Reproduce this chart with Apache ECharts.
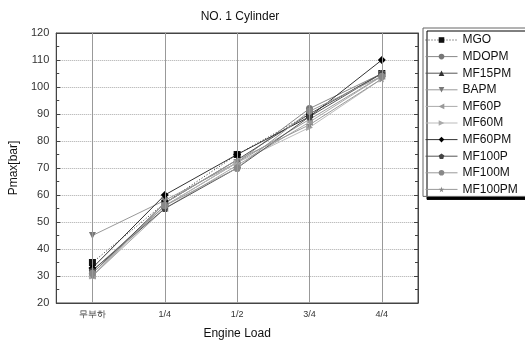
<!DOCTYPE html>
<html>
<head>
<meta charset="utf-8">
<script src="https://cdn.jsdelivr.net/npm/echarts@6/dist/echarts.min.js"></script>
<style>
  html, body { margin: 0; padding: 0; background: #fff; }
  #chart { width: 525px; height: 345px; }
</style>
</head>
<body>
<div id="chart"></div>
<script>
// Engine load steps
const loads = ['무부하', '1/4', '1/2', '3/4', '4/4'];

// Peak cylinder pressure (bar) per fuel
const MGO     = [35, 57, 75, 90, 105];
const MDOPM   = [32, 56, 72, 92, 105];
const MF15PM  = [31, 57, 73, 90, 105];
const BAPM    = [45, 58, 72, 88, 104];
const MF60P   = [30, 55, 71, 87, 104];
const MF60M   = [30, 56, 72, 85, 103];
const MF60PM  = [33, 60, 75, 89, 110];
const MF100P  = [32, 55, 70, 89, 105];
const MF100M  = [31, 56, 70, 91, 104];
const MF100PM = [30, 57, 73, 86, 103];

const yTicks = [20, 30, 40, 50, 60, 70, 80, 90, 100, 110, 120];

const pentagon = 'path://M0,-1 L0.951,-0.309 L0.588,0.809 L-0.588,0.809 L-0.951,-0.309 Z';
const star = 'path://M0,-1 L0.225,-0.309 L0.951,-0.309 L0.363,0.118 L0.588,0.809 L0,0.382 L-0.588,0.809 L-0.363,0.118 L-0.951,-0.309 L-0.225,-0.309 Z';

const defs = [
  { name: 'MGO',     data: MGO,     color: '#111', line: '#333', symbol: 'rect',     rot: 0,   size: 7, dash: [1, 2] },
  { name: 'MDOPM',   data: MDOPM,   color: '#777', line: '#888', symbol: 'circle',   rot: 0,   size: 7 },
  { name: 'MF15PM',  data: MF15PM,  color: '#333', line: '#555', symbol: 'triangle', rot: 0,   size: 7 },
  { name: 'BAPM',    data: BAPM,    color: '#777', line: '#999', symbol: 'triangle', rot: 180, size: 7 },
  { name: 'MF60P',   data: MF60P,   color: '#999', line: '#aaa', symbol: 'triangle', rot: 90,  size: 7 },
  { name: 'MF60M',   data: MF60M,   color: '#aaa', line: '#bbb', symbol: 'triangle', rot: -90, size: 7 },
  { name: 'MF60PM',  data: MF60PM,  color: '#000', line: '#333', symbol: 'diamond',  rot: 0,   size: 8 },
  { name: 'MF100P',  data: MF100P,  color: '#444', line: '#555', symbol: pentagon,   rot: 0,   size: 7 },
  { name: 'MF100M',  data: MF100M,  color: '#888', line: '#999', symbol: 'circle',   rot: 0,   size: 7 },
  { name: 'MF100PM', data: MF100PM, color: '#888', line: '#999', symbol: star,       rot: 0,   size: 7 }
];

const font = 'Liberation Sans, Arial, sans-serif';

const series = defs.map(d => ({
  name: d.name,
  type: 'line',
  data: d.data,
  symbol: d.symbol,
  symbolSize: d.size,
  symbolRotate: d.rot,
  showSymbol: true,
  itemStyle: { color: d.color },
  lineStyle: { color: d.line, width: 1, type: d.dash || 'solid' },
  emphasis: { disabled: true },
  z: 3
}));

// Vertical guide lines at each load step
series.push({
  type: 'line',
  data: [],
  silent: true,
  markLine: {
    symbol: 'none',
    silent: true,
    label: { show: false },
    lineStyle: { color: '#999', width: 1, type: 'solid' },
    data: loads.map(l => ({ xAxis: l }))
  },
  z: 1
});

const chart = echarts.init(document.getElementById('chart'), null, { renderer: 'canvas' });
chart.setOption({
  animation: false,
  backgroundColor: '#fff',
  title: {
    text: 'NO. 1 Cylinder',
    left: 235, top: 6, textAlign: 'center',
    textStyle: { fontFamily: font, fontSize: 12, fontWeight: 'normal', color: '#111' }
  },
  grid: { left: 52, right: 107, top: 33, bottom: 42, show: true, borderColor: '#444', borderWidth: 1 },
  legend: {
    orient: 'vertical',
    left: 423, top: 28,
    itemWidth: 32, itemHeight: 7, itemGap: 4.6,
    padding: [6, 12, 1, 2],
    backgroundColor: '#fff',
    borderColor: '#666', borderWidth: 1,
    shadowColor: '#000', shadowBlur: 0, shadowOffsetX: 4, shadowOffsetY: 3,
    lineStyle: { width: 1 },
    itemStyle: { borderWidth: 0 },
    textStyle: { fontFamily: font, fontSize: 12, color: '#111', padding: [0, 0, 0, 0] },
    data: defs.map(d => d.name)
  },
  xAxis: [{
    type: 'category',
    data: loads,
    boundaryGap: true,
    name: 'Engine Load',
    nameLocation: 'middle',
    nameGap: 25,
    nameTextStyle: { fontFamily: font, fontSize: 12, color: '#111' },
    axisLine: { lineStyle: { color: '#444' } },
    axisTick: { inside: true, length: 4, lineStyle: { color: '#444' } },
    axisLabel: { fontFamily: font, fontSize: 9, color: '#333', margin: 7 },
    splitLine: { show: false }
  }, {
    type: 'category',
    data: loads,
    position: 'top',
    boundaryGap: true,
    axisLine: { show: true, lineStyle: { color: '#444' } },
    axisTick: { inside: true, length: 4, lineStyle: { color: '#444' } },
    axisLabel: { show: false },
    splitLine: { show: false }
  }],
  yAxis: [{
    type: 'value',
    min: 20, max: 120, interval: 10,
    name: 'Pmax[bar]',
    nameLocation: 'middle',
    nameGap: 33,
    nameTextStyle: { fontFamily: font, fontSize: 12, color: '#111' },
    axisLine: { show: true, lineStyle: { color: '#444' } },
    axisTick: { show: true, inside: true, length: 4, lineStyle: { color: '#444' } },
    minorTick: { show: true, splitNumber: 2, length: 3, lineStyle: { color: '#444' } },
    axisLabel: {
      fontFamily: font, fontSize: 11, color: '#333', margin: 7,
      formatter: v => (yTicks.indexOf(v) >= 0 ? String(v) : '')
    },
    splitLine: { show: true, lineStyle: { color: '#aaa', type: 'dotted', width: 1 } }
  }, {
    type: 'value',
    min: 20, max: 120, interval: 10,
    position: 'right',
    axisLine: { show: true, lineStyle: { color: '#444' } },
    axisTick: { show: true, inside: true, length: 4, lineStyle: { color: '#444' } },
    minorTick: { show: true, splitNumber: 2, length: 3, lineStyle: { color: '#444' } },
    axisLabel: { show: false },
    splitLine: { show: false }
  }],
  series: series
});
</script>
</body>
</html>
